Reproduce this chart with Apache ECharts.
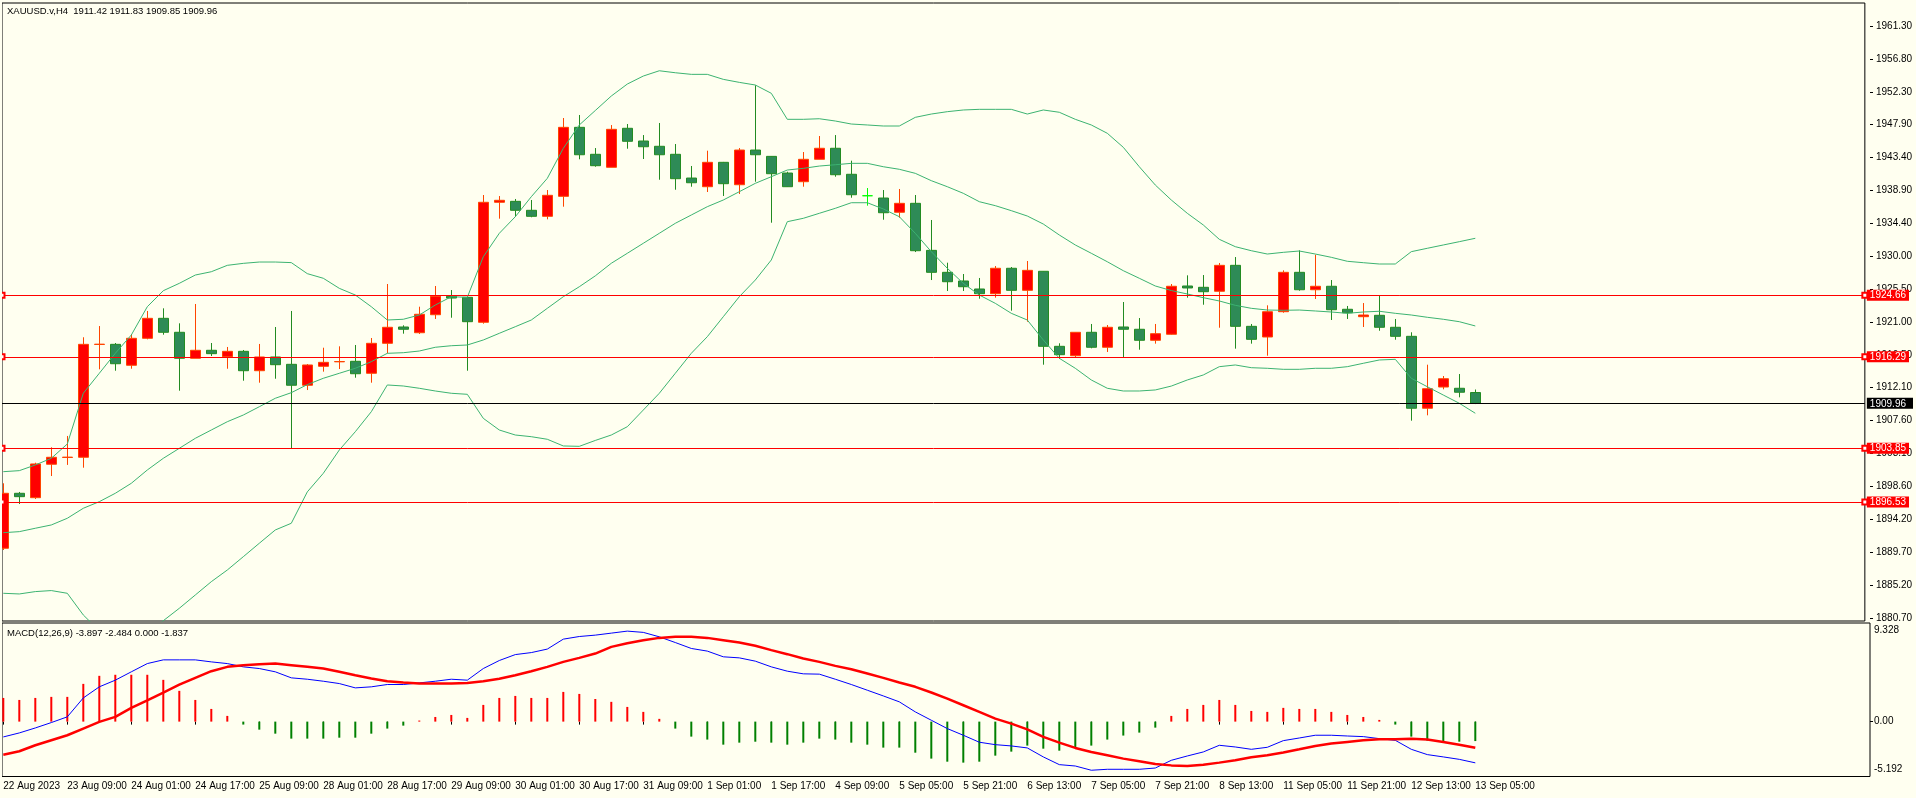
<!DOCTYPE html>
<html>
<head>
<meta charset="utf-8">
<script src="https://cdn.jsdelivr.net/npm/echarts@6/dist/echarts.min.js"></script>
<style>
html,body{margin:0;padding:0;background:#FFFFF0;}
#chart{width:1916px;height:798px;}
</style>
</head>
<body>
<div id="chart"></div>
<script>
// ---------- DATA ----------
const symbolName = 'XAUUSD.v,H4';
const firstLabel = '22 Aug 2023';
const times = [
'22 Aug 17:00','22 Aug 21:00',
'23 Aug 01:00','23 Aug 05:00','23 Aug 09:00','23 Aug 13:00','23 Aug 17:00','23 Aug 21:00',
'24 Aug 01:00','24 Aug 05:00','24 Aug 09:00','24 Aug 13:00','24 Aug 17:00','24 Aug 21:00',
'25 Aug 01:00','25 Aug 05:00','25 Aug 09:00','25 Aug 13:00','25 Aug 17:00','25 Aug 21:00',
'28 Aug 01:00','28 Aug 05:00','28 Aug 09:00','28 Aug 13:00','28 Aug 17:00','28 Aug 21:00',
'29 Aug 01:00','29 Aug 05:00','29 Aug 09:00','29 Aug 13:00','29 Aug 17:00','29 Aug 21:00',
'30 Aug 01:00','30 Aug 05:00','30 Aug 09:00','30 Aug 13:00','30 Aug 17:00','30 Aug 21:00',
'31 Aug 01:00','31 Aug 05:00','31 Aug 09:00','31 Aug 13:00','31 Aug 17:00','31 Aug 21:00',
'1 Sep 01:00','1 Sep 05:00','1 Sep 09:00','1 Sep 13:00','1 Sep 17:00','1 Sep 21:00',
'4 Sep 01:00','4 Sep 05:00','4 Sep 09:00','4 Sep 13:00','4 Sep 17:00',
'5 Sep 01:00','5 Sep 05:00','5 Sep 09:00','5 Sep 13:00','5 Sep 17:00','5 Sep 21:00',
'6 Sep 01:00','6 Sep 05:00','6 Sep 09:00','6 Sep 13:00','6 Sep 17:00','6 Sep 21:00',
'7 Sep 01:00','7 Sep 05:00','7 Sep 09:00','7 Sep 13:00','7 Sep 17:00','7 Sep 21:00',
'8 Sep 01:00','8 Sep 05:00','8 Sep 09:00','8 Sep 13:00','8 Sep 17:00','8 Sep 21:00',
'11 Sep 01:00','11 Sep 05:00','11 Sep 09:00','11 Sep 13:00','11 Sep 17:00','11 Sep 21:00',
'12 Sep 01:00','12 Sep 05:00','12 Sep 09:00','12 Sep 13:00','12 Sep 17:00','12 Sep 21:00',
'13 Sep 01:00','13 Sep 05:00'
];
const opens = [1890.23,1897.71,1897.11,1901.66,1902.58,1902.61,1917.96,1917.98,1915.13,1918.80,
1921.52,1919.62,1916.08,1917.17,1916.30,1917.03,1914.39,1916.26,1915.26,1912.41,
1914.99,1915.60,1915.67,1914.04,1918.12,1920.34,1919.56,1922.01,1924.52,1924.38,
1920.98,1937.31,1937.44,1936.22,1935.40,1938.12,1947.51,1943.84,1942.07,1947.38,
1945.65,1944.93,1943.84,1940.61,1939.43,1942.75,1939.70,1944.42,1943.56,1941.29,
1940.11,1943.16,1944.66,1941.12,1938.20,1937.89,1935.95,1937.17,1930.77,1927.78,
1926.60,1925.51,1924.87,1928.33,1925.33,1927.92,1917.71,1916.43,1919.62,1917.58,
1920.34,1920.03,1918.53,1919.35,1925.92,1925.74,1925.20,1928.73,1920.43,1918.98,
1922.42,1927.78,1925.41,1925.88,1922.75,1921.74,1921.93,1920.30,1919.07,1909.28,
1912.17,1912.00,1911.42];
const highs = [1899.07,1897.89,1901.87,1903.97,1905.51,1918.94,1920.47,1918.16,1919.38,1922.52,
1922.88,1920.84,1923.47,1918.16,1917.62,1917.21,1918.03,1920.34,1922.52,1915.30,
1917.52,1917.71,1917.89,1918.84,1926.19,1920.57,1923.10,1925.92,1925.37,1924.50,
1938.30,1938.16,1937.76,1937.62,1938.98,1948.78,1949.19,1944.69,1947.82,1947.96,
1946.46,1948.10,1945.24,1942.25,1944.33,1942.80,1944.69,1953.23,1943.60,1941.47,
1944.15,1946.33,1946.46,1942.97,1939.25,1938.98,1939.12,1938.30,1934.90,1929.09,
1927.55,1927.01,1928.64,1928.50,1929.32,1927.95,1918.12,1919.65,1920.75,1920.61,
1923.74,1921.56,1920.75,1926.19,1927.37,1927.41,1929.05,1929.86,1920.75,1923.29,
1928.05,1930.77,1930.18,1926.73,1923.20,1923.60,1924.56,1921.43,1919.62,1915.21,
1913.67,1913.94,1911.83];
const lows = [1889.99,1896.25,1896.93,1900.06,1901.57,1901.19,1914.58,1914.39,1914.66,1918.66,
1919.29,1911.67,1916.08,1916.39,1914.66,1913.03,1912.76,1913.30,1903.87,1911.76,
1914.26,1914.62,1913.44,1912.76,1916.76,1919.43,1919.39,1921.43,1921.60,1914.39,
1920.79,1935.08,1935.35,1935.27,1934.99,1936.71,1943.16,1942.15,1942.07,1944.60,
1943.20,1940.38,1939.02,1939.43,1938.71,1938.17,1938.44,1940.11,1934.53,1939.40,
1939.43,1943.16,1940.79,1937.93,1936.85,1934.94,1935.21,1930.54,1926.73,1925.24,
1925.24,1924.19,1924.33,1922.56,1921.06,1915.21,1915.98,1916.21,1917.44,1916.94,
1916.21,1917.25,1918.07,1919.30,1924.33,1923.37,1920.24,1917.39,1918.07,1916.43,
1922.28,1925.28,1924.15,1921.29,1921.43,1920.34,1919.83,1918.61,1907.59,1908.32,
1911.86,1910.77,1909.85];
const closes = [1897.71,1897.25,1901.70,1902.61,1902.63,1917.98,1918.00,1915.34,1918.80,1921.52,
1919.62,1916.08,1917.17,1916.71,1917.03,1914.39,1916.26,1915.21,1912.41,1915.17,
1915.53,1915.64,1913.98,1918.12,1920.30,1920.03,1922.07,1924.52,1924.28,1921.06,
1937.31,1937.58,1936.22,1935.40,1938.26,1947.51,1943.78,1942.29,1947.24,1945.61,
1944.87,1943.78,1940.52,1939.97,1942.75,1939.84,1944.42,1943.78,1941.20,1939.43,
1943.16,1944.66,1941.06,1938.34,1938.20,1935.89,1937.17,1930.72,1927.78,1926.50,
1925.82,1924.87,1928.33,1925.33,1928.05,1917.71,1916.57,1919.62,1917.58,1920.30,
1920.03,1918.53,1919.43,1925.88,1925.65,1925.14,1928.73,1920.43,1918.66,1922.42,
1927.78,1925.41,1925.88,1922.69,1922.28,1921.97,1920.30,1919.07,1909.28,1911.94,
1913.30,1911.46,1909.96];
const limeDojiIndex = 54;

const bbUpper = [1900.65,1900.79,1901.56,1902.47,1904.42,1911.32,1914.04,1916.76,1919.25,1923.10,
1925.28,1926.28,1927.41,1927.86,1928.73,1929.00,1929.18,1929.18,1929.10,1927.60,
1926.97,1925.60,1924.69,1923.10,1921.29,1921.39,1921.97,1923.33,1924.46,1924.38,
1929.90,1933.09,1935.35,1938.07,1940.57,1944.65,1947.83,1949.80,1951.77,1953.40,
1954.49,1955.21,1954.94,1954.72,1954.72,1954.04,1953.63,1953.27,1952.14,1948.60,
1948.60,1948.68,1948.37,1947.96,1947.83,1947.69,1947.69,1948.87,1949.32,1949.64,
1949.87,1949.96,1949.96,1949.96,1949.32,1949.87,1949.56,1948.60,1947.83,1946.70,
1944.79,1942.15,1939.66,1937.62,1935.81,1934.22,1932.27,1931.27,1930.72,1930.27,
1930.50,1930.68,1930.27,1929.82,1929.28,1929.09,1928.91,1928.91,1930.59,1931.05,
1931.50,1931.95,1932.41];
const bbMiddle = [1892.35,1892.49,1892.95,1893.40,1894.31,1895.67,1896.57,1897.71,1899.07,1900.88,
1902.47,1903.83,1905.19,1906.32,1907.45,1908.36,1909.49,1910.64,1911.40,1912.50,
1913.36,1914.04,1914.72,1915.62,1916.76,1916.84,1917.07,1917.58,1917.79,1917.89,
1918.57,1919.48,1920.38,1921.29,1922.88,1924.46,1925.82,1927.30,1929.01,1930.37,
1931.73,1933.09,1934.45,1935.58,1936.71,1937.62,1938.75,1939.89,1940.79,1941.70,
1941.93,1942.24,1942.42,1942.61,1942.61,1942.15,1941.80,1941.25,1940.25,1939.43,
1938.53,1937.39,1936.85,1936.17,1935.44,1934.35,1932.86,1931.50,1930.37,1929.22,
1928.00,1926.97,1925.92,1925.30,1924.83,1924.33,1923.88,1923.29,1922.88,1922.65,
1922.61,1922.65,1922.52,1922.38,1922.20,1922.38,1922.48,1922.20,1921.97,1921.66,
1921.39,1921.06,1920.48];
const bbLower = [1884.10,1884.01,1884.33,1884.47,1884.10,1881.15,1879.00,1877.60,1877.60,1878.60,
1880.37,1882.06,1883.87,1885.68,1887.27,1889.08,1890.91,1892.72,1893.63,1897.90,
1900.43,1903.60,1906.09,1908.81,1912.45,1912.31,1912.00,1911.63,1911.32,1911.18,
1907.91,1906.32,1905.64,1905.41,1905.06,1904.15,1904.10,1904.90,1905.64,1906.77,
1909.04,1911.32,1914.04,1916.76,1919.02,1921.74,1924.46,1926.73,1929.46,1934.67,
1935.13,1935.81,1936.49,1937.25,1937.25,1936.40,1935.35,1933.09,1930.59,1928.33,
1926.28,1924.69,1923.56,1922.20,1921.29,1918.57,1916.08,1914.72,1913.13,1912.00,
1911.63,1911.63,1911.77,1912.30,1913.13,1913.81,1914.94,1915.17,1914.80,1914.72,
1914.58,1914.58,1914.72,1914.72,1914.94,1915.40,1915.85,1915.94,1913.36,1912.21,
1911.08,1909.96,1908.60];

const macdMain = [-1.45,-1.07,-0.60,-0.09,0.45,2.24,3.29,3.92,4.71,5.49,
5.84,5.84,5.84,5.65,5.49,5.18,5.02,4.71,4.14,4.01,
3.82,3.60,3.19,3.29,3.51,3.51,3.66,3.82,4.01,3.92,
5.02,5.78,6.34,6.53,6.86,7.80,8.05,8.18,8.37,8.56,
8.44,8.02,7.48,6.92,6.67,6.13,6.03,5.72,5.18,4.77,
4.52,4.49,4.01,3.51,2.97,2.43,1.87,0.92,0.13,-0.66,
-1.29,-1.95,-2.18,-2.30,-2.49,-3.34,-4.07,-4.20,-4.60,-4.51,
-4.51,-4.51,-4.39,-3.66,-3.25,-2.87,-2.24,-2.40,-2.62,-2.43,
-1.80,-1.55,-1.29,-1.29,-1.36,-1.42,-1.61,-1.77,-2.62,-3.12,
-3.34,-3.57,-3.90];
const macdSignal = [-3.13,-2.80,-2.24,-1.76,-1.29,-0.66,-0.03,0.45,1.30,2.02,
2.75,3.50,4.14,4.77,5.18,5.34,5.43,5.49,5.34,5.18,
5.02,4.71,4.39,4.08,3.82,3.70,3.60,3.60,3.60,3.66,
3.82,4.05,4.39,4.77,5.18,5.65,6.03,6.44,7.07,7.42,
7.70,7.92,8.02,8.02,7.92,7.70,7.48,7.17,6.76,6.38,
5.97,5.65,5.27,4.96,4.55,4.14,3.70,3.29,2.75,2.18,
1.55,0.92,0.28,-0.19,-0.73,-1.45,-1.99,-2.49,-2.87,-3.18,
-3.50,-3.75,-4.01,-4.14,-4.20,-4.07,-3.88,-3.66,-3.37,-3.18,
-2.93,-2.62,-2.30,-2.08,-1.92,-1.77,-1.67,-1.67,-1.61,-1.70,
-1.92,-2.18,-2.48];
const macdHist = [2.24,2.05,2.24,2.34,2.34,3.57,4.33,4.43,4.43,4.43,
3.95,2.91,2.05,1.20,0.54,-0.28,-0.76,-1.14,-1.61,-1.61,
-1.61,-1.52,-1.52,-1.14,-0.66,-0.38,0.10,0.44,0.63,0.35,
1.58,2.24,2.43,2.24,2.24,2.81,2.62,2.14,1.87,1.39,
0.92,0.26,-0.66,-1.42,-1.70,-2.18,-1.99,-1.90,-1.99,-2.18,
-1.99,-1.61,-1.70,-1.99,-2.18,-2.46,-2.46,-2.94,-3.50,-3.79,
-3.88,-3.79,-3.22,-2.84,-2.27,-2.56,-2.75,-2.46,-2.27,-1.70,
-1.32,-1.04,-0.57,0.54,1.20,1.58,2.05,1.58,1.01,0.92,
1.30,1.20,1.20,0.92,0.63,0.44,0.16,-0.28,-1.42,-1.80,
-1.90,-1.90,-1.84];
const macdTitle = 'MACD(12,26,9)';
const macdLegendValues = ['-3.897','-2.484','0.000','-1.837'];

const priceTicks = [1880.70,1885.20,1889.70,1894.20,1898.60,1903.10,1907.60,1912.10,1916.50,1921.00,
1925.50,1930.00,1934.40,1938.90,1943.40,1947.90,1952.30,1956.80,1961.30];
const levelLines = [1924.66,1916.29,1903.85,1896.53];
const bidPrice = 1909.96;
const macdTickValues = [-5.192, 0, 9.328];
const macdTickLabels = ['-5.192','0.00','9.328'];

// ---------- LAYOUT / STYLE ----------
const FONT = '"Liberation Sans", Arial, sans-serif';
const BG = '#FFFFF0';
const SLOTS = 117;           // bar slots across the chart (16 px each)
const priceMin = 1880.33, priceMax = 1964.43;

const categories = times.concat(new Array(SLOTS - times.length).fill(''));
const candleData = opens.map((o, i) => {
  const item = { value: [o, closes[i], lows[i], highs[i]] };
  if (i === limeDojiIndex) item.itemStyle = { borderColorDoji: '#00FF00', borderColor: '#00FF00', borderColor0: '#00FF00' };
  return item;
});
const tickEvery4 = (i) => i % 4 === 0 && i < times.length;

const chart = echarts.init(document.getElementById('chart'), null, { renderer: 'canvas' });
const option = {
  animation: false,
  backgroundColor: BG,
  textStyle: { fontFamily: FONT },
  grid: [
    { left: 2, top: 3, right: 46, bottom: 177, show: true, borderColor: '#000', borderWidth: 1, backgroundColor: 'transparent' },
    { left: 3.3, top: 3, right: 56.7, bottom: 177 },
    { left: 2, top: 623, right: 46, bottom: 21.5, show: true, borderColor: '#000', borderWidth: 1, backgroundColor: 'transparent' },
    { left: 3.3, top: 623, right: 56.7, bottom: 21.5 }
  ],
  xAxis: [
    { gridIndex: 0, type: 'value', min: 0, max: 1, show: false },
    { gridIndex: 1, type: 'category', data: categories, boundaryGap: false, show: false },
    { gridIndex: 2, type: 'value', min: 0, max: 1, show: false },
    { gridIndex: 3, type: 'category', data: categories, boundaryGap: false,
      axisLine: { show: false },
      axisTick: { show: true, interval: tickEvery4, length: 3, lineStyle: { color: '#000', width: 1 } },
      axisLabel: { interval: tickEvery4, align: 'left', margin: 5, color: '#000', fontSize: 10, fontFamily: FONT,
        formatter: (v, i) => (i === 0 ? firstLabel : v) },
      splitLine: { show: false } }
  ],
  yAxis: [
    { gridIndex: 0, type: 'value', min: priceMin, max: priceMax, position: 'right', z: 5,
      axisLine: { show: false }, axisTick: { show: false }, splitLine: { show: false },
      axisLabel: { customValues: levelLines.concat([bidPrice]), margin: 2,
        formatter: (v) => (Math.abs(v - bidPrice) < 1e-6 ? '{k|' + v.toFixed(2) + '}' : '{r|' + v.toFixed(2) + '}'),
        rich: {
          r: { color: '#fff', backgroundColor: '#FF0000', padding: [1, 3, 0, 3], fontSize: 10, lineHeight: 10, fontFamily: FONT },
          k: { color: '#fff', backgroundColor: '#000', padding: [1, 7, 0, 3], fontSize: 10, lineHeight: 10, fontFamily: FONT }
        } } },
    { gridIndex: 1, type: 'value', min: priceMin, max: priceMax, position: 'right', offset: 10.7,
      axisLine: { show: false }, splitLine: { show: false },
      axisTick: { show: true, customValues: priceTicks, length: 3, lineStyle: { color: '#000' } },
      axisLabel: { customValues: priceTicks, margin: 6, color: '#000', fontSize: 10, fontFamily: FONT,
        formatter: (v) => v.toFixed(2) } },
    { gridIndex: 2, type: 'value', min: 0, max: 1, show: false },
    { gridIndex: 3, type: 'value', min: macdTickValues[0], max: macdTickValues[2], position: 'right', offset: 10.7,
      axisLine: { show: false }, splitLine: { show: false },
      axisTick: { show: true, customValues: [0], length: 3, lineStyle: { color: '#000' } },
      axisLabel: { customValues: macdTickValues, margin: 4, color: '#000', fontSize: 10, fontFamily: FONT,
        formatter: (v) => {
          const i = macdTickValues.findIndex(t => Math.abs(t - v) < 1e-6);
          const s = macdTickLabels[i];
          return i === 2 ? '{t|' + s + '}' : (i === 0 ? '{b|' + s + '}' : '{m|' + s + '}');
        },
        rich: {
          t: { padding: [14, 0, 0, 0], lineHeight: 12, fontSize: 10, fontFamily: FONT, color: '#000' },
          b: { padding: [0, 0, 14, 0], lineHeight: 12, fontSize: 10, fontFamily: FONT, color: '#000' },
          m: { lineHeight: 12, fontSize: 10, fontFamily: FONT, color: '#000' }
        } } }
  ],
  series: [
    { type: 'candlestick', xAxisIndex: 1, yAxisIndex: 1, barWidth: 10, data: candleData,
      itemStyle: { color: '#FF0000', color0: '#2E8B57', borderColor: '#FF4500', borderColor0: '#228B22',
        borderColorDoji: '#FF4500', borderWidth: 1 } },
    { type: 'line', xAxisIndex: 1, yAxisIndex: 1, data: bbUpper, showSymbol: false, symbol: 'none',
      lineStyle: { color: '#3CB371', width: 1 } },
    { type: 'line', xAxisIndex: 1, yAxisIndex: 1, data: bbMiddle, showSymbol: false, symbol: 'none',
      lineStyle: { color: '#3CB371', width: 1 } },
    { type: 'line', xAxisIndex: 1, yAxisIndex: 1, data: bbLower, showSymbol: false, symbol: 'none',
      lineStyle: { color: '#3CB371', width: 1 } },
    { type: 'line', xAxisIndex: 0, yAxisIndex: 0, data: [[0, bidPrice]], showSymbol: false, symbol: 'none',
      lineStyle: { width: 0 },
      markLine: { silent: true, animation: false, symbol: ['emptyRect', 'emptyRect'], symbolSize: 5,
        label: { show: false },
        lineStyle: { color: '#FF0000', width: 1, type: 'solid' },
        data: levelLines.map(v => ({ yAxis: v })) } },
    { type: 'line', xAxisIndex: 0, yAxisIndex: 0, data: [[0, bidPrice]], showSymbol: false, symbol: 'none',
      lineStyle: { width: 0 },
      markLine: { silent: true, animation: false, symbol: ['none', 'none'],
        label: { show: false },
        lineStyle: { color: '#000', width: 1, type: 'solid' },
        data: [{ yAxis: bidPrice }] } },
    { type: 'bar', xAxisIndex: 3, yAxisIndex: 3, barWidth: 2, data: macdHist,
      itemStyle: { color: (p) => (p.value >= 0 ? '#FF0000' : '#008000') } },
    { type: 'line', xAxisIndex: 3, yAxisIndex: 3, data: macdMain, showSymbol: false, symbol: 'none',
      lineStyle: { color: '#0000FF', width: 1 } },
    { type: 'line', xAxisIndex: 3, yAxisIndex: 3, data: macdSignal, showSymbol: false, symbol: 'none',
      lineStyle: { color: '#FF0000', width: 2.5 } }
  ],
  graphic: [
    { type: 'rect', left: 0, top: 0, z: 100, shape: { width: 2, height: 798 }, style: { fill: BG } },
    { type: 'text', left: 7, top: 6, z: 100, style: {
        text: symbolName + '  ' + [opens, highs, lows, closes].map(a => a[a.length - 1].toFixed(2)).join(' '),
        font: '9.5px ' + FONT, fill: '#000' } },
    { type: 'text', left: 7, top: 628, z: 100, style: {
        text: macdTitle + ' ' + macdLegendValues.join(' '),
        font: '9.5px ' + FONT, fill: '#000' } }
  ]
};
chart.setOption(option);
</script>
</body>
</html>
